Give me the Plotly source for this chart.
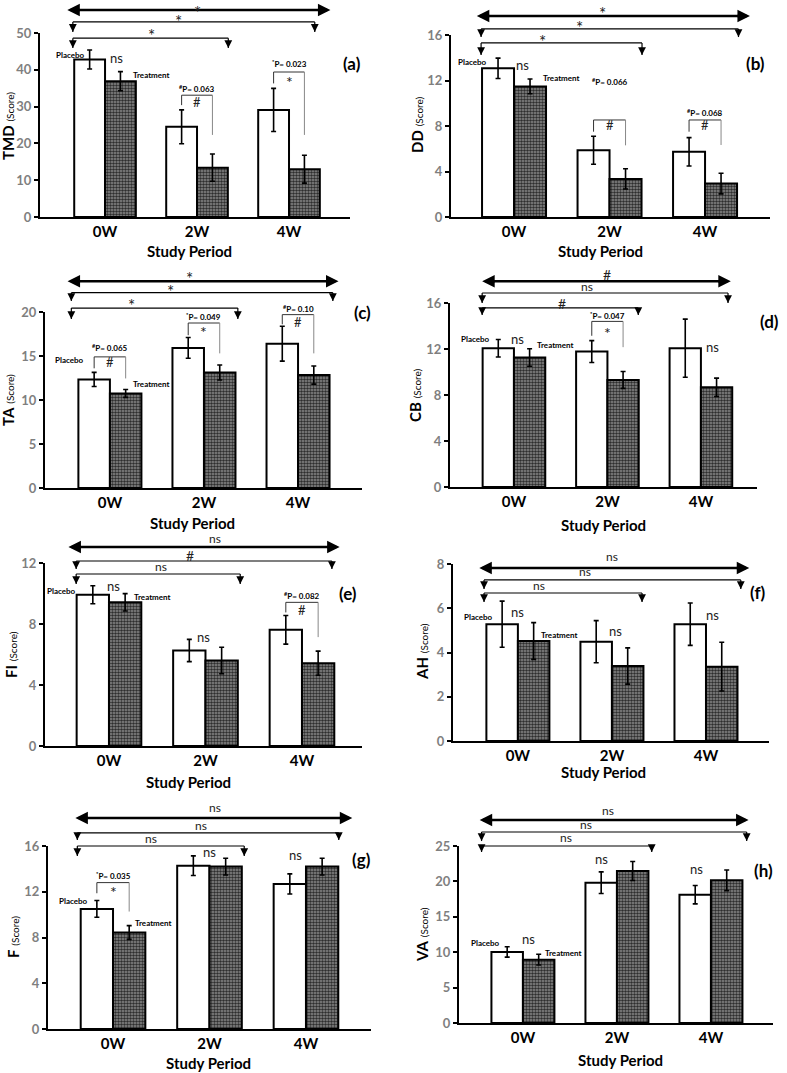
import plotly.graph_objects as go

W, H = 787, 1073
FONT = "Lato, 'Open Sans', sans-serif"

weeks = ["0W", "2W", "4W"]
week_pos = [0, 1, 2]

# --- values (mean and half error bar) ---
tmd_placebo = [42.8, 24.5, 29.1]
tmd_placebo_err = [2.6, 4.6, 5.85]
tmd_treatment = [36.9, 13.4, 13.0]
tmd_treatment_err = [2.6, 3.7, 3.8]

dd_placebo = [13.07, 5.87, 5.73]
dd_placebo_err = [0.9, 1.23, 1.25]
dd_treatment = [11.48, 3.35, 2.94]
dd_treatment_err = [0.65, 0.89, 0.91]

ta_placebo = [12.34, 15.92, 16.4]
ta_placebo_err = [0.8, 1.18, 1.98]
ta_treatment = [10.75, 13.13, 12.83]
ta_treatment_err = [0.45, 0.85, 1.03]

cb_placebo = [12.07, 11.78, 12.07]
cb_placebo_err = [0.76, 0.95, 2.53]
cb_treatment = [11.26, 9.31, 8.67]
cb_treatment_err = [0.76, 0.73, 0.8]

fi_placebo = [9.92, 6.26, 7.62]
fi_placebo_err = [0.59, 0.73, 0.94]
fi_treatment = [9.42, 5.61, 5.43]
fi_treatment_err = [0.57, 0.87, 0.79]

ah_placebo = [5.28, 4.49, 5.28]
ah_placebo_err = [1.04, 0.95, 0.96]
ah_treatment = [4.52, 3.39, 3.36]
ah_treatment_err = [0.83, 0.82, 1.1]

f_placebo = [10.5, 14.28, 12.68]
f_placebo_err = [0.73, 0.86, 0.88]
f_treatment = [8.44, 14.2, 14.2]
f_treatment_err = [0.6, 0.73, 0.73]

va_placebo = [10.03, 19.82, 18.13]
va_placebo_err = [0.73, 1.53, 1.3]
va_treatment = [8.95, 21.47, 20.15]
va_treatment_err = [0.76, 1.34, 1.46]

# --- panel layout: pixel box (left, top, right, bottom), x range, y max, tick step ---
panels = [
    dict(tag="(a)", name="TMD", p=tmd_placebo, pe=tmd_placebo_err, t=tmd_treatment, te=tmd_treatment_err,
         box=(40, 33, 350, 217), xr=(-0.707, 2.663), ymax=50, dtick=10,
         ytitle=(8, 126), xtitle=(189, 251), tagpos=(2.68, 41.8)),
    dict(tag="(b)", name="DD", p=dd_placebo, pe=dd_placebo_err, t=dd_treatment, te=dd_treatment_err,
         box=(451, 35, 770, 217), xr=(-0.66, 2.68), ymax=16, dtick=4,
         ytitle=(417, 125), xtitle=(600, 251), tagpos=(2.53, 13.5)),
    dict(tag="(c)", name="TA", p=ta_placebo, pe=ta_placebo_err, t=ta_treatment, te=ta_treatment_err,
         box=(45, 312, 362, 488), xr=(-0.69, 2.68), ymax=20, dtick=5,
         ytitle=(8, 400), xtitle=(192, 523), tagpos=(2.69, 19.9)),
    dict(tag="(d)", name="CB", p=cb_placebo, pe=cb_placebo_err, t=cb_treatment, te=cb_treatment_err,
         box=(450, 303, 757, 487), xr=(-0.684, 2.6), ymax=16, dtick=4,
         ytitle=(415, 395), xtitle=(603, 525), tagpos=(2.73, 14.35)),
    dict(tag="(e)", name="FI", p=fi_placebo, pe=fi_placebo_err, t=fi_treatment, te=fi_treatment_err,
         box=(45, 563, 362, 746), xr=(-0.663, 2.622), ymax=12, dtick=4,
         ytitle=(11, 655), xtitle=(188, 782), tagpos=(2.48, 10.0)),
    dict(tag="(f)", name="AH", p=ah_placebo, pe=ah_placebo_err, t=ah_treatment, te=ah_treatment_err,
         box=(453, 564, 769, 741), xr=(-0.69, 2.67), ymax=8, dtick=2,
         ytitle=(422, 652), xtitle=(603, 772), tagpos=(2.55, 6.73)),
    dict(tag="(g)", name="F", p=f_placebo, pe=f_placebo_err, t=f_treatment, te=f_treatment_err,
         box=(48, 846, 371, 1029), xr=(-0.674, 2.674), ymax=16, dtick=4,
         ytitle=(13, 937), xtitle=(208, 1063), tagpos=(2.58, 14.78)),
    dict(tag="(h)", name="VA", p=va_placebo, pe=va_placebo_err, t=va_treatment, te=va_treatment_err,
         box=(459, 846, 773, 1023), xr=(-0.68, 2.66), ymax=25, dtick=5,
         ytitle=(422, 935), xtitle=(620, 1060), tagpos=(2.56, 21.5)),
]

# overall comparison brackets above each panel: (y, x0, x1, arrow tip y or None for the double arrow, label, label x, label y)
# a label y of None pins the label to the top edge of the page
top_brackets = [
    [(56.25, -0.41, 2.45, None, "*", 1.0, None), (53.0, -0.35, 2.28, 50.3, "*", 0.8, 54.3), (48.6, -0.35, 1.34, 45.9, "*", 0.51, 50.3)],
    [(17.67, -0.39, 2.47, None, "*", 0.93, 18.2), (16.53, -0.345, 2.35, 15.82, "*", 0.69, 16.97), (15.3, -0.345, 1.34, 14.24, "*", 0.30, 15.82)],
    [(23.5, -0.45, 2.43, None, "*", 0.85, 24.3), (22.2, -0.41, 2.37, 21.25, "*", 0.64, 22.8), (20.45, -0.41, 1.36, 19.2, "*", 0.23, 21.25)],
    [(17.9, -0.34, 2.32, None, "#", 1.0, 18.5), (16.87, -0.34, 2.29, 16.0, "ns", 0.78, 17.3), (15.57, -0.34, 1.33, 14.96, "#", 0.51, 16.0)],
    [(13.05, -0.42, 2.39, None, "ns", 1.1, 13.5), (12.13, -0.34, 2.31, 11.6, "#", 0.84, 12.46), (11.28, -0.34, 1.36, 10.62, "ns", 0.54, 11.67)],
    [(7.82, -0.41, 2.46, None, "ns", 1.0, 8.27), (7.28, -0.36, 2.37, 6.87, "ns", 0.71, 7.59), (6.69, -0.36, 1.32, 6.28, "ns", 0.22, 6.96)],
    [(18.45, -0.39, 2.48, None, "ns", 1.06, 19.15), (17.14, -0.37, 2.34, 16.52, "ns", 0.91, 17.66), (16.0, -0.37, 1.36, 15.13, "ns", 0.39, 16.44)],
    [(28.67, -0.46, 2.4, None, "ns", 0.9, 29.8), (26.98, -0.44, 2.38, 25.7, "ns", 0.67, 27.7), (25.0, -0.44, 1.37, 24.15, "ns", 0.46, 25.85)],
]

# placebo vs treatment brackets: (week index, top y, left leg end, right leg end, symbol, p text, p text y, symbol y)
pair_brackets = [
    [(1, 33.1, 30.4, 22.3, "#", "<sup>#</sup>P= 0.063", 34.8, 31.25), (2, 39.4, 36.3, 22.3, "*", "<sup>*</sup>P= 0.023", 41.8, 38.0)],
    [(1, 8.53, 7.5, 6.3, "#", "<sup>#</sup>P= 0.066", 11.87, 8.1), (2, 8.53, 7.5, 6.33, "#", "<sup>#</sup>P= 0.068", 9.23, 8.1)],
    [(0, 14.9, 13.6, 12.45, "#", "<sup>#</sup>P= 0.065", 16.0, 14.3), (1, 18.75, 17.36, 15.3, "*", "<sup>*</sup>P= 0.049", 19.5, 18.2),
     (2, 19.7, 18.6, 15.3, "#", "<sup>#</sup>P= 0.10", 20.45, 18.9)],
    [(1, 14.4, 13.15, 12.16, "*", "<sup>*</sup>P= 0.047", 14.87, 13.8)],
    [(2, 9.42, 8.76, 7.14, "#", "<sup>#</sup>P= 0.082", 9.84, 8.92)],
    [],
    [(0, 12.8, 11.87, 10.27, "*", "<sup>*</sup>P= 0.035", 13.38, 12.4)],
    [],
]

# small labels inside each panel: (text, x, y)
labels = [
    [("Placebo", -0.375, 44.0), ("ns", 0.13, 42.7), ("Treatment", 0.5, 38.6)],
    [("Placebo", -0.435, 13.6), ("ns", 0.09, 13.2), ("Treatment", 0.5, 12.2)],
    [("Placebo", -0.43, 14.5), ("Treatment", 0.44, 11.8)],
    [("Placebo", -0.41, 12.9), ("ns", 0.04, 12.7), ("Treatment", 0.44, 12.35), ("ns", 2.12, 12.0)],
    [("Placebo", -0.49, 10.16), ("ns", 0.05, 10.36), ("Treatment", 0.45, 9.77), ("ns", 0.98, 7.0)],
    [("Placebo", -0.42, 5.6), ("ns", 0.0, 5.74), ("Treatment", 0.44, 4.79), ("ns", 1.04, 4.88), ("ns", 2.07, 5.6)],
    [("Placebo", -0.41, 11.2), ("Treatment", 0.42, 9.27), ("ns", 1.0, 15.3), ("ns", 1.89, 15.04)],
    [("Placebo", -0.4, 11.3), ("ns", 0.06, 11.6), ("Treatment", 0.43, 9.9), ("ns", 0.84, 22.9), ("ns", 1.85, 21.5)],
]

HALF = 0.1675  # half of group width -> bar centres
fig = go.Figure()

for i, pn in enumerate(panels):
    n = "" if i == 0 else str(i + 1)
    xa, ya = "x" + n, "y" + n
    xd, yd = xa + " domain", ya + " domain"
    ymax = pn["ymax"]
    x0r, x1r = pn["xr"]
    L, T, R, B = pn["box"]
    page_top = 1 + T / (B - T)  # top edge of the page in this panel's y-domain units

    def fx(v):
        return (v - x0r) / (x1r - x0r)

    def fy(v):
        return v / ymax

    def text(txt, x, y, size, bold=False, shift=0):
        if y is None:
            ypos, yanc, shift = page_top, "top", 0
        else:
            ypos, yanc = fy(y), "middle"
        fig.add_annotation(xref=xd, yref=yd, x=fx(x), y=ypos, yshift=shift, xanchor="center", yanchor=yanc,
                           text=("<b>%s</b>" % txt) if bold else txt, showarrow=False,
                           font=dict(family=FONT, size=size, color="black" if bold else "#222"))

    def sym(txt, x, y, size):
        if txt == "*":
            text(txt, x, y, size + 3, shift=-4)
        elif txt == "ns":
            text(txt, x, y, size, shift=2)
        else:
            text(txt, x, y, size)

    def line(x0, y0, x1, y1, color="black", width=1.2):
        fig.add_shape(type="line", xref=xd, yref=yd, x0=fx(x0), x1=fx(x1), y0=fy(y0), y1=fy(y1),
                      line=dict(color=color, width=width))

    def head(x, y, ax, ay, width, size):
        fig.add_annotation(xref=xd, yref=yd, x=fx(x), y=fy(y), ax=ax, ay=ay, text="", showarrow=True,
                           arrowhead=2, arrowsize=size, arrowwidth=width, arrowcolor="black")

    fig.add_trace(go.Bar(
        x=week_pos, y=pn["p"], name="Placebo", xaxis=xa, yaxis=ya, showlegend=False,
        marker=dict(color="white", line=dict(color="black", width=2)),
        error_y=dict(type="data", array=pn["pe"], color="black", thickness=1.6, width=2.5)))
    fig.add_trace(go.Bar(
        x=week_pos, y=pn["t"], name="Treatment", xaxis=xa, yaxis=ya, showlegend=False,
        marker=dict(color="#666", line=dict(color="black", width=2),
                    pattern=dict(shape=".", fgcolor="#2e2e2e", bgcolor="#8c8c8c", size=3, solidity=0.55,
                                 fillmode="replace")),
        error_y=dict(type="data", array=pn["te"], color="black", thickness=1.6, width=2.5)))

    fig.update_layout({
        "xaxis" + n: dict(domain=[L / W, R / W], range=[x0r, x1r], anchor=ya, automargin=False,
                          tickvals=week_pos, ticktext=weeks, showline=True, linecolor="black", linewidth=2,
                          ticks="", showgrid=False, zeroline=False,
                          tickfont=dict(family=FONT, size=15, color="black", weight="bold")),
        "yaxis" + n: dict(domain=[1 - B / H, 1 - T / H], range=[0, ymax], dtick=pn["dtick"], anchor=xa,
                          automargin=False, showline=True, linecolor="black", linewidth=2,
                          ticks="outside", ticklen=4, tickcolor="black", tickwidth=1.5,
                          showgrid=False, zeroline=False,
                          tickfont=dict(family=FONT, size=13, color="#7f7f7f", weight="bold")),
    })

    # overall comparisons
    for (yl, x0, x1, tip, lab, lx, ly) in top_brackets[i]:
        if tip is None:
            line(x0 + 0.04, yl, x1 - 0.04, yl, width=2.5)
            head(x0, yl, 14, 0, 2.5, 1.0)
            head(x1, yl, -14, 0, 2.5, 1.0)
        else:
            line(x0, yl, x1, yl)
            for xe in (x0, x1):
                line(xe, yl, xe, tip)
                head(xe, tip, 0, -6, 1.2, 1.3)
        sym(lab, lx, ly, 14 if lab != "ns" else 12)

    # placebo vs treatment
    for (k, top, lb, rb, s, ptxt, pty, sy) in pair_brackets[i]:
        xl, xr = week_pos[k] - HALF, week_pos[k] + HALF
        line(xl, top, xr, top, color="#333", width=1)
        line(xl, top, xl, lb, color="#333", width=1)
        line(xr, top, xr, rb, color="#888", width=1)
        text(ptxt, week_pos[k], pty, 8, bold=True)
        sym(s, week_pos[k], sy, 13)

    for (txt, x, y) in labels[i]:
        if txt == "ns":
            sym(txt, x, y, 13)
        else:
            text(txt, x, y, 8, bold=True)

    # panel tag and axis titles
    text(pn["tag"], pn["tagpos"][0], pn["tagpos"][1], 17, bold=True)
    fig.add_annotation(xref="paper", yref="paper", x=pn["xtitle"][0] / W, y=1 - pn["xtitle"][1] / H,
                       xanchor="center", yanchor="middle", text="<b>Study Period</b>", showarrow=False,
                       font=dict(family=FONT, size=15, color="black"))
    fig.add_annotation(xref="paper", yref="paper", x=pn["ytitle"][0] / W, y=1 - pn["ytitle"][1] / H,
                       xanchor="center", yanchor="middle",
                       text="<b>" + pn["name"] + "</b> <span style='font-size:10px'>(Score)</span>",
                       textangle=-90, showarrow=False, font=dict(family=FONT, size=15, color="black"))

fig.update_layout(
    width=W, height=H, margin=dict(l=0, r=0, t=0, b=0),
    paper_bgcolor="white", plot_bgcolor="white",
    barmode="group", bargap=0.33, bargroupgap=0,
    font=dict(family=FONT),
)

# the page body has an 8px default margin; drop it so the figure fills the window
fig.write_html("out.html", config={"displayModeBar": False},
               post_script="document.body.style.margin = '0';")
